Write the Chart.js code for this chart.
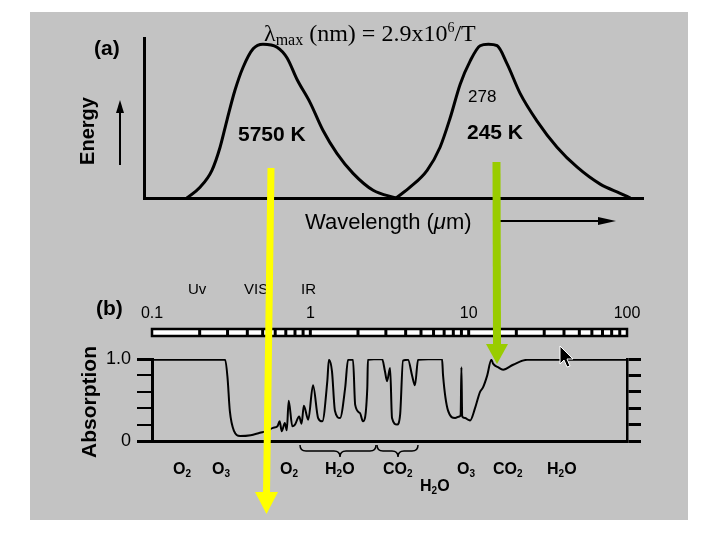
<!DOCTYPE html>
<html lang="en">
<head>
<meta charset="UTF-8">
<title>Emission spectra and atmospheric absorption</title>
<script src="https://cdn.jsdelivr.net/npm/chart.js"></script>
<style>
    body { margin: 0; background: #fff; }
    .page { position: relative; width: 720px; height: 540px; overflow: hidden;
            font-family: 'Liberation Sans', Arial, sans-serif; color: #000; }
    .panel { position: absolute; left: 30px; top: 12px; width: 658px; height: 508px; background: #c3c3c3; }
    .page canvas, .page svg { position: absolute; left: 0; top: 0; }
    .lbl { position: absolute; white-space: nowrap; line-height: 1; }
    .b { font-weight: bold; }
    .rot { transform: translate(-50%, -50%) rotate(-90deg); }
    .serif { font-family: 'Liberation Serif', 'Times New Roman', serif; }
    .serif sub { font-size: 16px; vertical-align: -4px; line-height: 0; }
    .serif sup { font-size: 14px; vertical-align: 9px; line-height: 0; }
    .mol { position: absolute; white-space: nowrap; line-height: 1; font-size: 16px; font-weight: bold; }
    .mol sub { font-size: 10px; vertical-align: -3px; line-height: 0; }
</style>
</head>
<body>
<div class="page">
    <div class="panel"></div>
    <canvas id="emissionChart" width="720" height="540"></canvas>
    <canvas id="absorptionChart" width="720" height="540"></canvas>

    <!-- panel (a) text -->
    <div class="lbl b" style="left:94px;top:37px;font-size:21px">(a)</div>
    <div class="lbl serif" style="left:264px;top:21px;font-size:24px">λ<sub>max</sub> (nm) = 2.9x10<sup>6</sup>/T</div>
    <div class="lbl b rot" style="left:87px;top:131px;font-size:20px">Energy</div>
    <div class="lbl b" style="left:238px;top:123px;font-size:21px">5750 K</div>
    <div class="lbl" style="left:468px;top:88px;font-size:17px">278</div>
    <div class="lbl b" style="left:467px;top:121px;font-size:21px">245 K</div>
    <div class="lbl" style="left:305px;top:211px;font-size:22px">Wavelength (<i>μ</i>m)</div>

    <!-- panel (b) text -->
    <div class="lbl b" style="left:96px;top:297px;font-size:21px">(b)</div>
    <div class="lbl" style="left:188px;top:281px;font-size:15px">Uv</div>
    <div class="lbl" style="left:244px;top:281px;font-size:15px">VIS</div>
    <div class="lbl" style="left:301px;top:281px;font-size:15px">IR</div>
    <div class="lbl b rot" style="left:88px;top:402px;font-size:21px">Absorption</div>

    <div class="mol" style="left:173px;top:461px">O<sub>2</sub></div>
    <div class="mol" style="left:212px;top:461px">O<sub>3</sub></div>
    <div class="mol" style="left:280px;top:461px">O<sub>2</sub></div>
    <div class="mol" style="left:325px;top:461px">H<sub>2</sub>O</div>
    <div class="mol" style="left:383px;top:461px">CO<sub>2</sub></div>
    <div class="mol" style="left:420px;top:478px">H<sub>2</sub>O</div>
    <div class="mol" style="left:457px;top:461px">O<sub>3</sub></div>
    <div class="mol" style="left:493px;top:461px">CO<sub>2</sub></div>
    <div class="mol" style="left:547px;top:461px">H<sub>2</sub>O</div>

    <svg width="720" height="540">
        <!-- small axis arrows of panel (a) -->
        <line x1="120" y1="165" x2="120" y2="110" stroke="#000" stroke-width="2"/>
        <polygon points="116,113 124,113 120,100" fill="#000"/>
        <line x1="500" y1="221" x2="600" y2="221" stroke="#000" stroke-width="2"/>
        <polygon points="598,217 598,225 616,221" fill="#000"/>
        <!-- braces under the H2O and CO2 bands -->
        <path d="M300,445 Q300,451 306,451 L334,451 Q340,451 340,457 Q340,451 346,451 L370,451 Q376,451 376,445"
              fill="none" stroke="#000" stroke-width="1.5"/>
        <path d="M377,445 Q377,451 383,451 L392,451 Q398,451 398,457 Q398,451 404,451 L412,451 Q418,451 418,445"
              fill="none" stroke="#000" stroke-width="1.5"/>
        <!-- peak markers -->
        <line x1="271" y1="168" x2="266.5" y2="494" stroke="#ffff00" stroke-width="7"/>
        <polygon points="255,492 278,492 266.5,514" fill="#ffff00"/>
        <line x1="496.5" y1="162" x2="497" y2="346" stroke="#99cc00" stroke-width="8"/>
        <polygon points="486,344 508,344 497,364" fill="#99cc00"/>
        <!-- mouse pointer left in the screenshot -->
        <path transform="translate(560,346)" d="M0,0 L0,18 L4,14 L7,21 L10,20 L7,13 L13,13 Z"
              fill="#000" stroke="#fff" stroke-width="1"/>
    </svg>
</div>

<script>
    // (a) blackbody curves, wavelength in um, energy relative to peak
    const sunWavelength = [0.166, 0.201, 0.239, 0.269, 0.298, 0.334, 0.376, 0.435, 0.502, 0.616, 0.713, 0.824, 0.996, 1.20, 1.47, 1.86, 2.49, 3.48];
    const sunEnergy = [0, 0.07, 0.18, 0.33, 0.51, 0.70, 0.85, 0.97, 1.0, 0.98, 0.91, 0.77, 0.62, 0.44, 0.29, 0.16, 0.05, 0];
    const earthWavelength = [3.48, 4.26, 5.46, 6.59, 7.63, 8.83, 10.2, 11.8, 13.3, 15.1, 17.5, 21.1, 27.0, 36.1, 48.4, 67.6, 90.4, 105];
    const earthEnergy = [0, 0.07, 0.18, 0.33, 0.52, 0.74, 0.89, 0.99, 1.0, 0.99, 0.87, 0.68, 0.50, 0.33, 0.20, 0.09, 0.03, 0];

    // (b) atmospheric absorption
    const absWavelength = [0.1, 0.29, 0.30, 0.31, 0.33, 0.36, 0.42, 0.48, 0.53, 0.58, 0.62, 0.64, 0.66, 0.69, 0.71, 0.73,
        0.77, 0.80, 0.85, 0.88, 0.91, 0.97, 1.04, 1.12, 1.19, 1.28, 1.31, 1.37, 1.43, 1.54, 1.66, 1.73, 1.86, 1.92,
        2.06, 2.15, 2.29, 2.31, 2.84, 2.96, 3.05, 3.19, 3.28, 3.53, 3.69, 3.85, 4.14, 4.39, 4.58, 4.79, 6.79, 6.89,
        7.41, 8.21, 8.75, 8.9, 9.0, 9.1, 9.49, 9.91, 10.2, 10.97, 11.8, 12.3, 13.1, 13.9, 14.3, 15.3, 16.5, 19.1,
        23.4, 37.8, 100];
    const absValue = [0.99, 0.99, 0.77, 0.37, 0.12, 0.06, 0.07, 0.10, 0.12, 0.16, 0.18, 0.24, 0.12, 0.22, 0.13, 0.49,
        0.18, 0.20, 0.30, 0.21, 0.43, 0.26, 0.68, 0.28, 0.24, 0.73, 0.99, 0.85, 0.37, 0.28, 0.65, 0.99, 0.99, 0.44,
        0.34, 0.24, 0.65, 0.99, 1.0, 0.85, 0.73, 0.89, 0.28, 0.20, 0.32, 0.98, 0.99, 0.80, 0.68, 0.99, 1.0, 0.80,
        0.37, 0.28, 0.30, 0.32, 0.90, 0.30, 0.28, 0.26, 0.25, 0.40, 0.60, 0.65, 0.80, 0.99, 0.94, 0.90, 0.87, 0.93,
        0.99, 0.99, 0.99];

    // wavelength ruler above (b)
    const scaleValues = [0.1, 1, 10, 100];
    const scaleLabels = ['0.1', '1', '10', '100'];
    const scaleDividers = [0.2, 0.3, 0.4, 0.5, 0.6, 0.7, 0.8, 0.9, 1, 2, 3, 4, 5, 6, 7, 8, 9, 10,
        20, 30, 40, 50, 60, 70, 80, 90];

    Chart.defaults.font.family = "'Liberation Sans', Arial, sans-serif";
    Chart.defaults.color = '#000';

    function toPoints(xs, ys) {
        return xs.map((x, i) => ({ x: x, y: ys[i] }));
    }

    const hiddenGrid = { display: false, drawTicks: false };

    const scaleBar = {
        id: 'scaleBar',
        afterDraw(chart) {
            const { ctx, scales: { x } } = chart;
            const x0 = x.getPixelForValue(scaleValues[0]);
            const x1 = x.getPixelForValue(scaleValues[scaleValues.length - 1]);
            ctx.save();
            ctx.fillStyle = '#fff';
            ctx.fillRect(x0, 329, x1 - x0, 7);
            ctx.strokeStyle = '#000';
            ctx.lineWidth = 3;
            scaleDividers.forEach(v => {
                const px = x.getPixelForValue(v);
                ctx.beginPath();
                ctx.moveTo(px, 329);
                ctx.lineTo(px, 336);
                ctx.stroke();
            });
            ctx.lineWidth = 2.5;
            ctx.strokeRect(x0, 329, x1 - x0, 7);
            ctx.font = "16px 'Liberation Sans', Arial, sans-serif";
            ctx.fillStyle = '#000';
            ctx.textAlign = 'center';
            ctx.textBaseline = 'middle';
            scaleValues.forEach((v, i) => ctx.fillText(scaleLabels[i], x.getPixelForValue(v), 314));
            ctx.restore();
        }
    };

    new Chart(document.getElementById('emissionChart'), {
        type: 'line',
        data: {
            datasets: [
                { label: '5750 K', data: toPoints(sunWavelength, sunEnergy), borderColor: '#000', borderWidth: 3,
                  pointRadius: 0, cubicInterpolationMode: 'monotone' },
                { label: '245 K', data: toPoints(earthWavelength, earthEnergy), borderColor: '#000', borderWidth: 3,
                  pointRadius: 0, cubicInterpolationMode: 'monotone' }
            ]
        },
        options: {
            responsive: false,
            animation: false,
            layout: { padding: { left: 144, right: 77, top: 38, bottom: 342 } },
            plugins: { legend: { display: false }, tooltip: { enabled: false } },
            scales: {
                x: { type: 'logarithmic', min: 0.089, max: 126, ticks: { display: false }, grid: hiddenGrid,
                     border: { color: '#000', width: 3 }, afterFit: s => { s.height = 0; } },
                y: { min: 0, max: 1.04, ticks: { display: false }, grid: hiddenGrid,
                     border: { color: '#000', width: 3 }, afterFit: s => { s.width = 0; } }
            }
        }
    });

    const tickWidth = c => (c.tick && (c.tick.value === 0 || c.tick.value === 1)) ? 3 : 2;

    new Chart(document.getElementById('absorptionChart'), {
        type: 'line',
        data: {
            datasets: [{ label: 'Absorption', data: toPoints(absWavelength, absValue), borderColor: '#000',
                         borderWidth: 2, pointRadius: 0, cubicInterpolationMode: 'monotone' }]
        },
        options: {
            responsive: false,
            animation: false,
            layout: { padding: { left: 102, right: 79, top: 359, bottom: 99 } },
            plugins: { legend: { display: false }, tooltip: { enabled: false } },
            scales: {
                x: { type: 'logarithmic', min: 0.1, max: 100, ticks: { display: false }, grid: hiddenGrid,
                     border: { color: '#000', width: 3 }, afterFit: s => { s.height = 0; } },
                y: { position: 'left', min: 0, max: 1,
                     ticks: { stepSize: 0.2, autoSkip: false, padding: 6, font: { size: 18 },
                              callback: v => v === 0 ? '0' : (v === 1 ? '1.0' : '') },
                     grid: { drawOnChartArea: false, color: '#000', lineWidth: tickWidth, tickLength: 15 },
                     border: { color: '#000', width: 3 }, afterFit: s => { s.width = 50; } },
                y2: { position: 'right', min: 0, max: 1, ticks: { stepSize: 0.2, autoSkip: false, display: false },
                      grid: { drawOnChartArea: false, color: '#000', lineWidth: 3, tickLength: 14 },
                      border: { color: '#000', width: 2.5 }, afterFit: s => { s.width = 14; } }
            }
        },
        plugins: [scaleBar]
    });
</script>
</body>
</html>
